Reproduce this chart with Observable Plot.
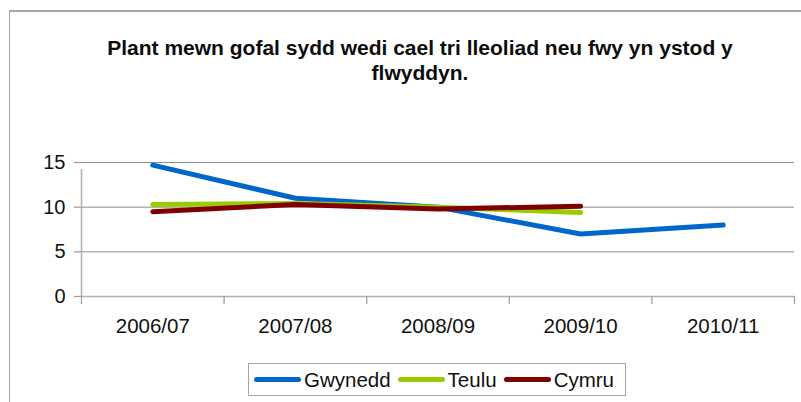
<!DOCTYPE html>
<html>
<head>
<meta charset="utf-8">
<script src="https://cdn.jsdelivr.net/npm/d3@7"></script>
<script src="https://cdn.jsdelivr.net/npm/@observablehq/plot@0.6"></script>
<style>
  html, body { margin: 0; padding: 0; background: #fff; }
  #wrap { position: relative; width: 801px; height: 402px; overflow: hidden; font-family: "Liberation Sans", Arial, sans-serif; color: #111; }
  #chart { position: absolute; left: 0; top: 0; }
  #frame { position: absolute; left: 9px; top: 10px; width: 800px; height: 400px; border-top: 2px solid #a6a6a6; border-left: 1.5px solid #a6a6a6; }
  #titleclip { position: absolute; left: 0; top: 0; width: 733px; height: 100px; overflow: hidden; }
  .tline { position: absolute; left: 420px; transform: translateX(-50%); white-space: nowrap; font-weight: bold; font-size: 21px; line-height: 25px; color: #0d0d0d; }
  #legend { position: absolute; left: 248px; top: 363px; width: 376px; height: 31px; border: 1px solid #a6a6a6; display: flex; align-items: center; box-sizing: content-box; }
  .item { display: flex; align-items: center; font-size: 20.5px; color: #111; }
  .sw { display: inline-block; width: 47px; height: 5px; border-radius: 3px; margin-right: 3px; }
</style>
</head>
<body>
<div id="wrap">
  <div id="chart"></div>
  <div id="frame"></div>
  <div id="titleclip"></div>
  <div id="legend"></div>
</div>
<script>
// ---- data ----
const titleLines = ["Plant mewn gofal sydd wedi cael tri lleoliad neu fwy yn ystod y", "flwyddyn."];
const years = ["2006/07", "2007/08", "2008/09", "2009/10", "2010/11"];
const seriesNames = ["Gwynedd", "Teulu", "Cymru"];
const seriesColors = ["#0066cc", "#99cc00", "#800000"];
const gwynedd = [14.7, 11.0, 10.0, 7.0, 8.0];
const teulu = [10.3, 10.4, 10.0, 9.4, null];
const cymru = [9.5, 10.3, 9.8, 10.1, null];
const yTicks = [0, 5, 10, 15];

const seriesValues = [gwynedd, teulu, cymru];
const rows = seriesNames.flatMap((name, s) =>
  years.map((yr, i) => ({series: name, year: yr, pos: i + 0.5, value: seriesValues[s][i]}))
       .filter(d => d.value !== null)
);

const plot = Plot.plot({
  width: 801,
  height: 402,
  marginLeft: 81,
  marginRight: 7,
  marginTop: 162,
  marginBottom: 106,
  style: {fontFamily: "'Liberation Sans', Arial, sans-serif", background: "transparent", color: "#111"},
  x: {type: "linear", domain: [0, years.length], axis: null, label: null},
  y: {domain: [0, 15], axis: null, label: null},
  color: {domain: seriesNames, range: seriesColors},
  marks: [
    Plot.ruleY(yTicks.filter(v => v > 0), {stroke: "#8c8c8c", strokeWidth: 1}),
    Plot.ruleY([0], {stroke: "#b0b0b0", strokeWidth: 1.5}),
    Plot.ruleX([0], {y1: 0, y2: 15, stroke: "#b0b0b0", strokeWidth: 1.5, insetBottom: -7}),
    Plot.axisY({ticks: yTicks, tickSize: 7, tickPadding: 9, fontSize: 20, stroke: "#a0a0a0", strokeWidth: 1.3, label: null}),
    Plot.axisX({ticks: d3.range(0, years.length + 1), tickSize: 8, tickFormat: () => "", stroke: "#a0a0a0", strokeWidth: 1.3, label: null}),
    Plot.axisX({ticks: years.map((_, i) => i + 0.5), tickFormat: v => years[Math.round(v - 0.5)], tickSize: 0, tickPadding: 22, fontSize: 20.5, label: null}),
    Plot.line(rows, {x: "pos", y: "value", z: "series", stroke: "series", strokeWidth: 5, strokeLinecap: "round", strokeLinejoin: "round"})
  ]
});
document.getElementById("chart").appendChild(plot);

// title
const tc = document.getElementById("titleclip");
titleLines.forEach((t, i) => {
  const d = document.createElement("div");
  d.className = "tline";
  d.style.top = (34.5 + i * 25) + "px";
  d.textContent = t;
  tc.appendChild(d);
});

// legend
const lg = document.getElementById("legend");
seriesNames.forEach((name, i) => {
  const it = document.createElement("div");
  it.className = "item";
  it.style.marginLeft = i === 0 ? "5px" : "7px";
  const sw = document.createElement("span");
  sw.className = "sw";
  sw.style.background = seriesColors[i];
  const tx = document.createElement("span");
  tx.textContent = name;
  it.appendChild(sw);
  it.appendChild(tx);
  lg.appendChild(it);
});
</script>
</body>
</html>
